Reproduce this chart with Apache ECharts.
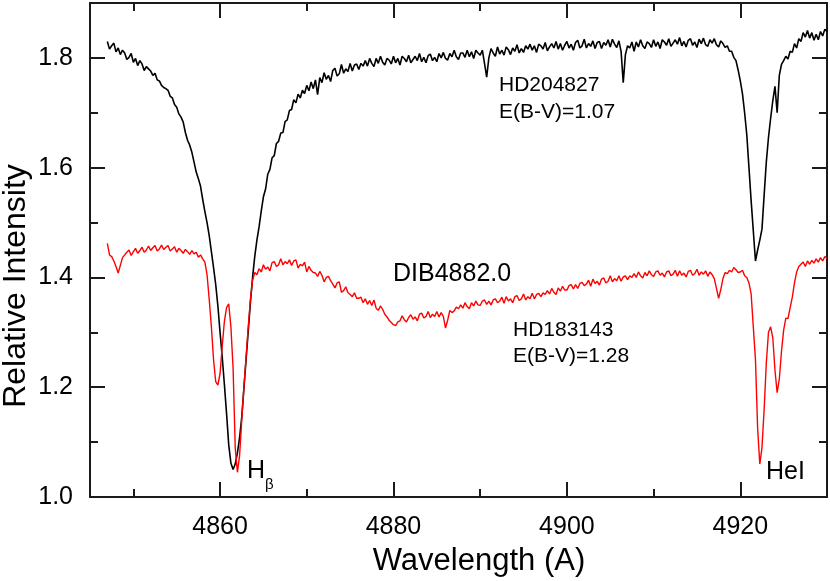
<!DOCTYPE html>
<html><head><meta charset="utf-8">
<script src="https://cdn.jsdelivr.net/npm/echarts@6/dist/echarts.min.js"></script>
<style>html,body{margin:0;padding:0;background:#fff}#c{width:830px;height:581px}</style>
</head><body><div id="c"></div>
<script>
// Sampling grid of the spectra (Angstrom)
const lambdaStart = 4847.0;
const lambdaStep = 0.25;

// HD204827, E(B-V)=1.07 (black)
const hd204827 = [
1.830,1.816,1.822,1.827, 1.811,1.818,1.806,1.814, 1.809,1.797,1.801,1.808, 1.792,1.799,1.786,1.795,
1.789,1.777,1.784,1.780, 1.776,1.768,1.772,1.760, 1.758,1.750,1.746,1.744, 1.741,1.730,1.727,1.715,
1.710,1.698,1.692,1.683, 1.664,1.650,1.641,1.628, 1.610,1.592,1.580,1.566, 1.542,1.520,1.500,1.476,
1.447,1.418,1.387,1.348, 1.300,1.255,1.205,1.152, 1.095,1.062,1.050,1.060, 1.080,1.108,1.145,1.198,
1.250,1.302,1.354,1.400, 1.438,1.468,1.492,1.521, 1.547,1.561,1.588,1.597, 1.618,1.622,1.644,1.648,
1.663,1.664,1.684,1.687, 1.704,1.706,1.724,1.718, 1.734,1.727,1.741,1.735, 1.750,1.740,1.756,1.744,
1.760,1.733,1.764,1.755, 1.773,1.761,1.768,1.757, 1.777,1.781,1.767,1.771, 1.788,1.772,1.780,1.775,
1.790,1.776,1.787,1.789, 1.779,1.790,1.785,1.795, 1.785,1.799,1.790,1.784, 1.799,1.790,1.803,1.792,
1.787,1.799,1.796,1.789, 1.803,1.791,1.799,1.787, 1.803,1.799,1.793,1.805, 1.791,1.797,1.803,1.795,
1.808,1.793,1.801,1.791, 1.804,1.807,1.795,1.801, 1.793,1.808,1.800,1.810, 1.799,1.796,1.808,1.802,
1.814,1.802,1.797,1.809, 1.809,1.801,1.814,1.802, 1.811,1.799,1.814,1.809, 1.805,1.814,1.790,1.765,
1.800,1.817,1.809,1.803, 1.820,1.807,1.814,1.805, 1.820,1.815,1.806,1.818, 1.812,1.824,1.809,1.817,
1.810,1.822,1.816,1.825, 1.814,1.822,1.810,1.825, 1.822,1.816,1.828,1.813, 1.820,1.826,1.818,1.830,
1.816,1.826,1.814,1.823, 1.830,1.818,1.825,1.814, 1.828,1.832,1.818,1.822, 1.834,1.818,1.826,1.821,
1.831,1.817,1.828,1.830, 1.817,1.828,1.823,1.833, 1.820,1.834,1.825,1.819, 1.831,1.812,1.755,1.806,
1.822,1.818,1.829,1.812, 1.829,1.820,1.833,1.822, 1.817,1.829,1.826,1.819, 1.833,1.821,1.829,1.817,
1.833,1.829,1.823,1.835, 1.821,1.827,1.833,1.825, 1.837,1.822,1.830,1.820, 1.832,1.835,1.823,1.829,
1.819,1.834,1.826,1.836, 1.824,1.821,1.833,1.827, 1.835,1.824,1.820,1.831, 1.826,1.819,1.822,1.812,
1.812,1.801,1.795,1.778, 1.758,1.735,1.700,1.660, 1.600,1.540,1.485,1.430, 1.450,1.468,1.488,1.550,
1.610,1.655,1.690,1.722, 1.748,1.700,1.768,1.788, 1.795,1.803,1.798,1.812, 1.810,1.826,1.818,1.835,
1.830,1.846,1.838,1.850, 1.836,1.846,1.832,1.843, 1.833,1.848,1.840,1.852, 1.848
];

// HD183143, E(B-V)=1.28 (red)
const hd183143 = [
1.462,1.441,1.438,1.430, 1.420,1.408,1.422,1.436, 1.441,1.446,1.450,1.440, 1.447,1.453,1.444,1.449,
1.455,1.446,1.450,1.457, 1.449,1.454,1.458,1.448, 1.452,1.459,1.451,1.455, 1.458,1.448,1.452,1.456,
1.446,1.453,1.449,1.444, 1.451,1.447,1.442,1.449, 1.443,1.446,1.437,1.441, 1.434,1.428,1.405,1.360,
1.310,1.250,1.210,1.204, 1.225,1.275,1.320,1.345, 1.352,1.310,1.236,1.090, 1.045,1.075,1.140,1.200,
1.255,1.310,1.360,1.395, 1.409,1.405,1.416,1.410, 1.423,1.415,1.419,1.412, 1.427,1.429,1.420,1.423,
1.434,1.423,1.429,1.425, 1.432,1.422,1.430,1.432, 1.417,1.424,1.421,1.428, 1.410,1.420,1.413,1.409,
1.408,1.402,1.411,1.404, 1.392,1.400,1.402,1.394, 1.388,1.381,1.390,1.392, 1.373,1.376,1.383,1.372,
1.369,1.365,1.372,1.362, 1.362,1.364,1.354,1.361, 1.351,1.358,1.349,1.359, 1.344,1.340,1.348,1.342,
1.333,1.328,1.322,1.318, 1.314,1.312,1.319,1.321, 1.330,1.323,1.319,1.327, 1.332,1.324,1.328,1.321,
1.333,1.335,1.326,1.329, 1.338,1.327,1.333,1.329, 1.338,1.328,1.336,1.329, 1.308,1.322,1.340,1.336,
1.339,1.346,1.343,1.350, 1.344,1.354,1.347,1.343, 1.354,1.348,1.357,1.350, 1.349,1.357,1.359,1.351,
1.357,1.350,1.359,1.361, 1.354,1.357,1.364,1.353, 1.365,1.357,1.361,1.354, 1.365,1.367,1.358,1.361,
1.370,1.359,1.365,1.361, 1.371,1.361,1.369,1.371, 1.365,1.372,1.369,1.376, 1.370,1.380,1.373,1.369,
1.381,1.375,1.384,1.377, 1.377,1.385,1.387,1.379, 1.387,1.380,1.389,1.391, 1.385,1.388,1.395,1.384,
1.397,1.389,1.393,1.386, 1.397,1.399,1.390,1.393, 1.403,1.392,1.398,1.394, 1.403,1.393,1.401,1.403,
1.396,1.403,1.400,1.407, 1.400,1.410,1.403,1.399, 1.409,1.403,1.412,1.405, 1.402,1.410,1.412,1.404,
1.408,1.401,1.410,1.412, 1.403,1.406,1.413,1.402, 1.412,1.404,1.408,1.401, 1.411,1.413,1.404,1.407,
1.415,1.404,1.410,1.406, 1.412,1.402,1.410,1.405, 1.398,1.380,1.362,1.378, 1.398,1.409,1.407,1.413,
1.410,1.418,1.414,1.409, 1.410,1.413,1.403,1.400, 1.390,1.370,1.310,1.250, 1.125,1.060,1.090,1.160,
1.244,1.300,1.310,1.290, 1.231,1.190,1.215,1.265, 1.304,1.326,1.325,1.345, 1.364,1.390,1.410,1.420,
1.424,1.428,1.420,1.430, 1.424,1.431,1.426,1.434, 1.428,1.436,1.430,1.438, 1.435
];

const xTickLabels = [4860, 4880, 4900, 4920];
const yTickLabels = ['1.0', '1.2', '1.4', '1.6', '1.8'];

const FONT = '"Liberation Sans", Arial, sans-serif';
const AX = '#1a1a1a';

function toPairs(arr) { return arr.map((v, i) => [lambdaStart + i * lambdaStep, v]); }

function xAxisDef(pos, labels) {
  return {
    type: 'value', position: pos, min: 4845, max: 4930,
    axisLine: { show: true, onZero: false, lineStyle: { color: AX, width: 2 } },
    axisTick: { show: true, inside: true, length: 15, lineStyle: { color: AX, width: 2 } },
    minorTick: { show: true, splitNumber: 2, length: 8, lineStyle: { color: AX, width: 2 } },
    splitLine: { show: false }, minorSplitLine: { show: false },
    axisLabel: {
      show: labels, fontSize: 25, fontFamily: FONT, color: '#000', margin: 18,
      showMinLabel: false, showMaxLabel: false,
      formatter: v => xTickLabels.includes(Math.round(v)) && Math.abs(v - Math.round(v)) < 1e-6 ? String(Math.round(v)) : ''
    }
  };
}
function yAxisDef(pos, labels) {
  return {
    type: 'value', position: pos, min: 1.0, max: 1.9, interval: 0.2,
    axisLine: { show: true, onZero: false, lineStyle: { color: AX, width: 2 } },
    axisTick: { show: true, inside: true, length: 15, lineStyle: { color: AX, width: 2 } },
    minorTick: { show: true, splitNumber: 2, length: 8, lineStyle: { color: AX, width: 2 } },
    splitLine: { show: false }, minorSplitLine: { show: false },
    axisLabel: {
      show: labels, fontSize: 25, fontFamily: FONT, color: '#000', margin: 17,
      showMaxLabel: false,
      formatter: v => { const s = v.toFixed(1); return yTickLabels.includes(s) ? s : ''; }
    }
  };
}

const chart = echarts.init(document.getElementById('c'), null, { renderer: 'canvas' });
chart.setOption({
  animation: false,
  backgroundColor: '#fff',
  grid: { left: 90, right: 3, top: 3, bottom: 84, containLabel: false },
  xAxis: [xAxisDef('bottom', true), xAxisDef('top', false)],
  yAxis: [yAxisDef('left', true), yAxisDef('right', false)],
  series: [
    { name: 'HD204827', type: 'line', xAxisIndex: 0, yAxisIndex: 0, data: toPairs(hd204827),
      showSymbol: false, symbol: 'none', lineStyle: { color: '#000', width: 1.6 }, z: 2 },
    { name: 'HD183143', type: 'line', xAxisIndex: 0, yAxisIndex: 0, data: toPairs(hd183143),
      showSymbol: false, symbol: 'none', lineStyle: { color: '#ff0000', width: 1.4 }, z: 3 }
  ],
  graphic: [
    { type: 'text', x: 499, y: 85, style: { text: 'HD204827', font: '21px ' + FONT, fill: '#000', align: 'left', verticalAlign: 'middle' } },
    { type: 'text', x: 499, y: 112, style: { text: 'E(B-V)=1.07', font: '21px ' + FONT, fill: '#000', align: 'left', verticalAlign: 'middle' } },
    { type: 'text', x: 513, y: 330, style: { text: 'HD183143', font: '21px ' + FONT, fill: '#000', align: 'left', verticalAlign: 'middle' } },
    { type: 'text', x: 513, y: 356, style: { text: 'E(B-V)=1.28', font: '21px ' + FONT, fill: '#000', align: 'left', verticalAlign: 'middle' } },
    { type: 'text', x: 393, y: 274, style: { text: 'DIB4882.0', font: '25px ' + FONT, fill: '#000', align: 'left', verticalAlign: 'middle' } },
    { type: 'text', x: 247, y: 471, style: { text: 'H', font: '25px ' + FONT, fill: '#000', align: 'left', verticalAlign: 'middle' } },
    { type: 'text', x: 265, y: 485, style: { text: 'β', font: '15px ' + FONT, fill: '#000', align: 'left', verticalAlign: 'middle' } },
    { type: 'text', x: 766, y: 472, style: { text: 'HeI', font: '25px ' + FONT, fill: '#000', align: 'left', verticalAlign: 'middle' } },
    { type: 'text', x: 479, y: 561, style: { text: 'Wavelength (A)', font: '31px ' + FONT, fill: '#000', align: 'center', verticalAlign: 'middle' } },
    { type: 'text', x: 16, y: 286, rotation: Math.PI / 2, style: { text: 'Relative Intensity', font: '32px ' + FONT, fill: '#000', align: 'center', verticalAlign: 'middle' } }
  ]
});
</script>
</body></html>
